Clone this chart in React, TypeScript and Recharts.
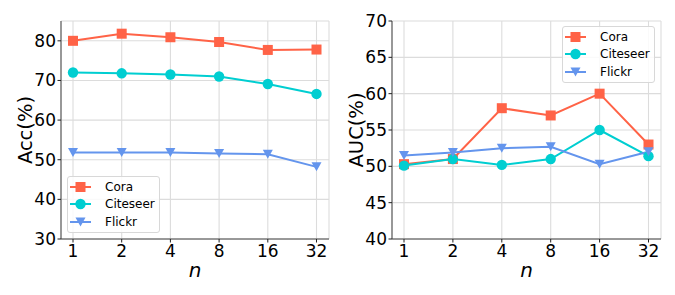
import React from "react";
import {
  CartesianGrid,
  Legend,
  Line,
  LineChart,
  XAxis,
  YAxis
} from "recharts";

const nLabels = ["1", "2", "4", "8", "16", "32"];

const accCora = [80.0, 81.8, 80.9, 79.7, 77.7, 77.8];
const accCiteseer = [72.0, 71.8, 71.5, 71.0, 69.1, 66.6];
const accFlickr = [51.8, 51.8, 51.8, 51.6, 51.4, 48.2];

const aucCora = [50.3, 51.0, 58.0, 57.0, 60.0, 53.0];
const aucCiteseer = [50.1, 51.0, 50.2, 51.0, 55.0, 51.4];
const aucFlickr = [51.5, 51.9, 52.5, 52.7, 50.3, 52.0];

const accTicks = [30, 40, 50, 60, 70, 80];
const aucTicks = [40, 45, 50, 55, 60, 65, 70];

const SERIES = ["Cora", "Citeseer", "Flickr"];
const COLORS: Record<string, string> = {
  Cora: "#ff6347",
  Citeseer: "#00ced1",
  Flickr: "#6495ed"
};
const FONT = "'DejaVu Sans', sans-serif";
const SPINE = "#444";

function Marker({ cx, cy, name }: { cx: number; cy: number; name: string }) {
  const c = COLORS[name];
  if (name === "Cora") {
    return <rect x={cx - 5} y={cy - 5} width={10} height={10} fill={c} />;
  }
  if (name === "Citeseer") {
    return <circle cx={cx} cy={cy} r={5.2} fill={c} />;
  }
  // triangle pointing down
  return (
    <polygon
      points={`${cx - 5},${cy - 4.5} ${cx + 5},${cy - 4.5} ${cx},${cy + 4.5}`}
      fill={c}
    />
  );
}

function LegendBox({ payload }: any) {
  const items = SERIES.filter((s) => (payload || []).some((p: any) => p.value === s));
  return (
    <div
      style={{
        boxSizing: "border-box",
        width: 93,
        height: 57,
        border: "1px solid #d8d8d8",
        borderRadius: 3,
        background: "rgba(255,255,255,0.85)",
        paddingTop: 1,
        paddingLeft: 2,
        fontFamily: FONT,
        fontSize: 12,
        color: "#000"
      }}
    >
      {items.map((name) => (
        <div key={name} style={{ display: "flex", alignItems: "center", height: 17.5 }}>
          <svg width={21} height={12} style={{ overflow: "visible" }}>
            <line x1={0} x2={21} y1={6} y2={6} stroke={COLORS[name]} strokeWidth={2} />
            <Marker cx={10.5} cy={6} name={name} />
          </svg>
          <span style={{ marginLeft: 14, lineHeight: "14px" }}>{name}</span>
        </div>
      ))}
    </div>
  );
}

function YLabel({ viewBox, value }: any) {
  const x = viewBox.x + viewBox.width - 35.5;
  const y = viewBox.y + viewBox.height / 2;
  return (
    <text
      x={x}
      y={y}
      transform={`rotate(-90, ${x}, ${y})`}
      textAnchor="middle"
      dominantBaseline="central"
      fontFamily={FONT}
      fontSize={19.5}
      fill="#000"
    >
      {value}
    </text>
  );
}

function XLabel({ viewBox }: any) {
  return (
    <text
      x={viewBox.x + viewBox.width / 2}
      y={viewBox.y + 38}
      textAnchor="middle"
      fontFamily={FONT}
      fontSize={20}
      fontStyle="italic"
      fill="#000"
    >
      n
    </text>
  );
}

type PanelProps = {
  yLabel: string;
  cora: number[];
  citeseer: number[];
  flickr: number[];
  domain: [number, number];
  ticks: number[];
  width: number;
  margin: { top: number; right: number; bottom: number; left: number };
  legendPos: { left: number; top: number };
};

function Panel({ yLabel, cora, citeseer, flickr, domain, ticks, width, margin, legendPos }: PanelProps) {
  const data = nLabels.map((n, i) => ({
    n,
    Cora: cora[i],
    Citeseer: citeseer[i],
    Flickr: flickr[i]
  }));
  const tickStyle = { fontFamily: FONT, fontSize: 17, fill: "#000" };
  const pad = { left: 12, right: 12.5 };

  return (
    <LineChart width={width} height={295} data={data} margin={margin}>
      <CartesianGrid stroke="#dcdcdc" strokeWidth={1.1} />
      <XAxis
        dataKey="n"
        padding={pad}
        height={50}
        tick={tickStyle}
        tickSize={3.5}
        tickMargin={2}
        stroke={SPINE}
        tickLine={{ stroke: "#222" }}
        interval={0}
        label={<XLabel />}
      />
      <XAxis
        xAxisId="top"
        orientation="top"
        dataKey="n"
        padding={pad}
        height={0}
        tick={false}
        tickLine={false}
        stroke={SPINE}
      />
      <YAxis
        domain={domain}
        ticks={ticks}
        width={50}
        tick={tickStyle}
        tickSize={3.5}
        tickMargin={1.5}
        stroke={SPINE}
        tickLine={{ stroke: "#222" }}
        interval={0}
        allowDataOverflow
        label={<YLabel value={yLabel} />}
      />
      <YAxis
        yAxisId="right"
        orientation="right"
        type="number"
        domain={domain}
        width={0}
        tick={false}
        tickLine={false}
        stroke={SPINE}
        allowDataOverflow
      />
      {SERIES.map((name) => (
        <Line
          key={name}
          type="linear"
          dataKey={name}
          stroke={COLORS[name]}
          strokeWidth={2}
          isAnimationActive={false}
          activeDot={false}
          dot={(p: any) => <Marker key={`${name}-${p.index}`} cx={p.cx} cy={p.cy} name={name} />}
        />
      ))}
      <Legend
        layout="vertical"
        align="center"
        verticalAlign="middle"
        content={<LegendBox />}
        wrapperStyle={{ position: "absolute", left: legendPos.left, top: legendPos.top, width: "auto" }}
      />
    </LineChart>
  );
}

export default function App() {
  return (
    <div
      style={{
        position: "absolute",
        left: 0,
        top: 0,
        width: 675,
        height: 295,
        background: "#fff"
      }}
    >
      <div style={{ position: "absolute", left: 0, top: 0 }}>
        <Panel
          yLabel="Acc(%)"
          cora={accCora}
          citeseer={accCiteseer}
          flickr={accFlickr}
          domain={[30, 85]}
          ticks={accTicks}
          width={337}
          margin={{ top: 21, right: 8, bottom: 6, left: 11 }}
          legendPos={{ left: 67, top: 176 }}
        />
      </div>
      <div style={{ position: "absolute", left: 337, top: 0 }}>
        <Panel
          yLabel="AUC(%)"
          cora={aucCora}
          citeseer={aucCiteseer}
          flickr={aucFlickr}
          domain={[40, 70]}
          ticks={aucTicks}
          width={338}
          margin={{ top: 21, right: 14, bottom: 6, left: 5 }}
          legendPos={{ left: 225, top: 26 }}
        />
      </div>
    </div>
  );
}
